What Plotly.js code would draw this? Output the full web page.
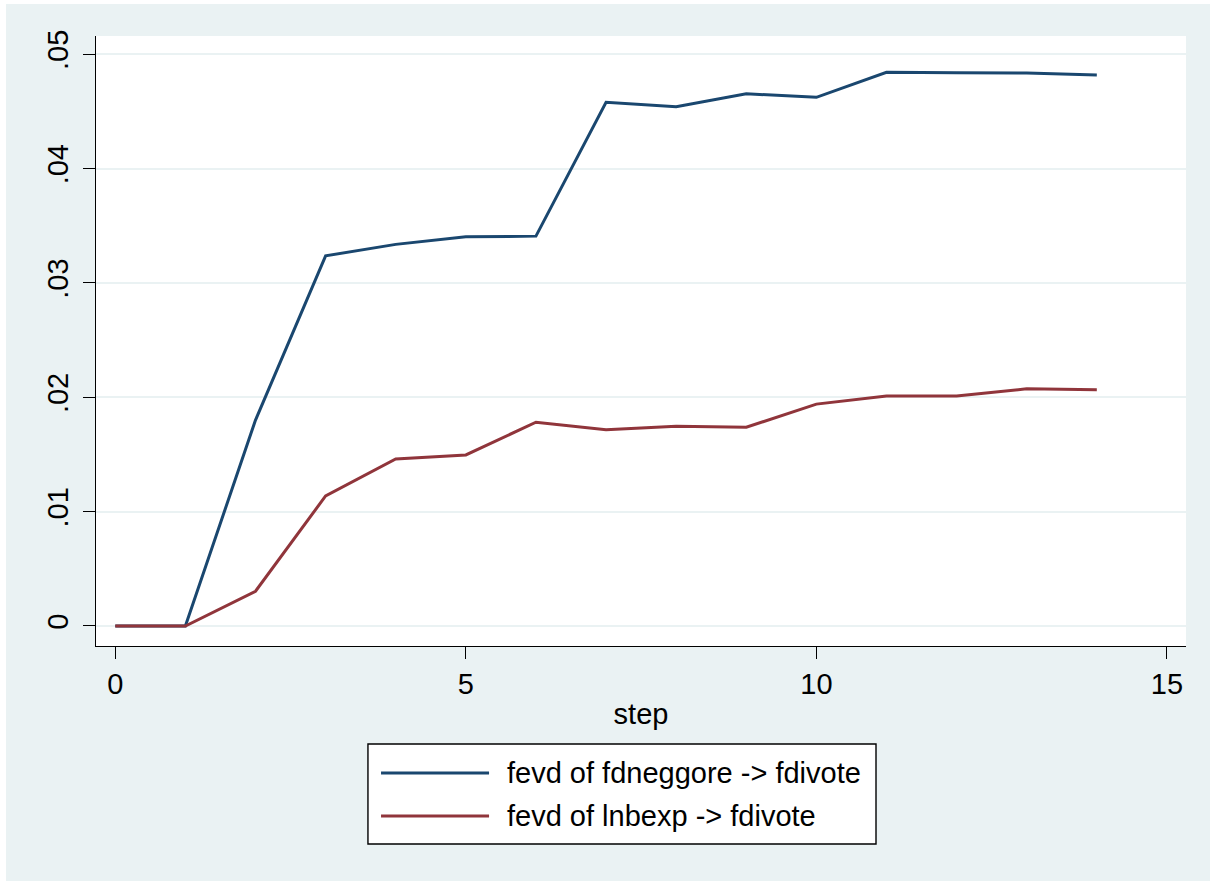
<!DOCTYPE html>
<html>
<head>
<meta charset="utf-8">
<script src="https://cdn.plot.ly/plotly-3.0.1.min.js"></script>
<style>
  html, body { margin: 0; padding: 0; background: #ffffff; width: 1215px; height: 886px; overflow: hidden; }
  #chart { position: absolute; left: 6px; top: 4px; width: 1204px; height: 877px; }
</style>
</head>
<body>
<div id="chart"></div>
<script>
// ---- data ----
const steps = [0, 1, 2, 3, 4, 5, 6, 7, 8, 9, 10, 11, 12, 13, 14];
const fevdFdneggore = [0, 0, 0.0180, 0.03237, 0.03337, 0.03403, 0.03409, 0.04579, 0.04541, 0.04654, 0.04623, 0.04842, 0.04838, 0.04836, 0.04818];
const fevdLnbexp = [0, 0, 0.00304, 0.01137, 0.01461, 0.01496, 0.01782, 0.01715, 0.01747, 0.01738, 0.0194, 0.02012, 0.02012, 0.02074, 0.02065];
const seriesNames = ["fevd of fdneggore -> fdivote", "fevd of lnbexp -> fdivote"];
const seriesColors = ["#1A476F", "#90353B"];
const yTickVals = [0, 0.01, 0.02, 0.03, 0.04, 0.05];
const yTickText = ["0", ".01", ".02", ".03", ".04", ".05"];
const xTickVals = [0, 5, 10, 15];
const xTickText = ["0", "5", "10", "15"];
const xTitle = "step";

const FONT = "Liberation Sans, Arial, Helvetica, sans-serif";
const FS = 29;

const traces = [fevdFdneggore, fevdLnbexp].map((ys, i) => ({
  type: "scatter",
  mode: "lines",
  x: steps,
  y: ys,
  name: seriesNames[i],
  line: { color: seriesColors[i], width: 3 },
  hoverinfo: "x+y+name",
  showlegend: false
}));

// manual legend (box, sample lines, labels) in paper coordinates
const legBox = { x0: 0.2495, x1: 0.7156, y0: -0.3246, y1: -0.1607 };
const legLineX = [0.2615, 0.3606];
const legRowY = [-0.2082, -0.2787];
const legTextX = 0.3752;

const shapes = [{
  type: "rect", xref: "paper", yref: "paper",
  x0: legBox.x0, x1: legBox.x1, y0: legBox.y0, y1: legBox.y1,
  line: { color: "#000000", width: 1.4 }, fillcolor: "#ffffff", layer: "above"
}];
const annotations = [];
seriesNames.forEach((nm, i) => {
  shapes.push({
    type: "line", xref: "paper", yref: "paper",
    x0: legLineX[0], x1: legLineX[1], y0: legRowY[i], y1: legRowY[i],
    line: { color: seriesColors[i], width: 3 }, layer: "above"
  });
  annotations.push({
    xref: "paper", yref: "paper", x: legTextX, y: legRowY[i],
    xanchor: "left", yanchor: "middle", showarrow: false,
    text: nm, font: { family: FONT, size: FS, color: "#000000" }
  });
});

const layout = {
  width: 1204, height: 877,
  paper_bgcolor: "#EAF2F3",
  plot_bgcolor: "#ffffff",
  margin: { l: 90, r: 24, t: 32, b: 235, pad: 0 },
  font: { family: FONT, size: FS, color: "#000000" },
  showlegend: false,
  xaxis: {
    range: [-0.275, 15.272],
    tickmode: "array", tickvals: xTickVals, ticktext: xTickText,
    ticks: "outside", ticklen: 12, tickwidth: 1.4, tickcolor: "#000000",
    showline: true, linecolor: "#000000", linewidth: 1.4,
    showgrid: false, zeroline: false,
    tickfont: { family: FONT, size: FS, color: "#000000" },
    title: { text: xTitle, font: { family: FONT, size: FS, color: "#000000" }, standoff: 4 },
    automargin: false, fixedrange: true
  },
  yaxis: {
    range: [-0.00175, 0.05159],
    tickmode: "array", tickvals: yTickVals, ticktext: yTickText,
    tickangle: -90,
    ticks: "outside", ticklen: 12, tickwidth: 1.4, tickcolor: "#000000",
    ticklabelstandoff: 3,
    showline: true, linecolor: "#000000", linewidth: 1.4,
    showgrid: true, gridcolor: "#EAF2F3", gridwidth: 2,
    zeroline: false,
    tickfont: { family: FONT, size: FS, color: "#000000" },
    automargin: false, fixedrange: true
  },
  shapes: shapes,
  annotations: annotations
};

Plotly.newPlot("chart", traces, layout, { displayModeBar: false, staticPlot: false, responsive: false });
</script>
</body>
</html>
